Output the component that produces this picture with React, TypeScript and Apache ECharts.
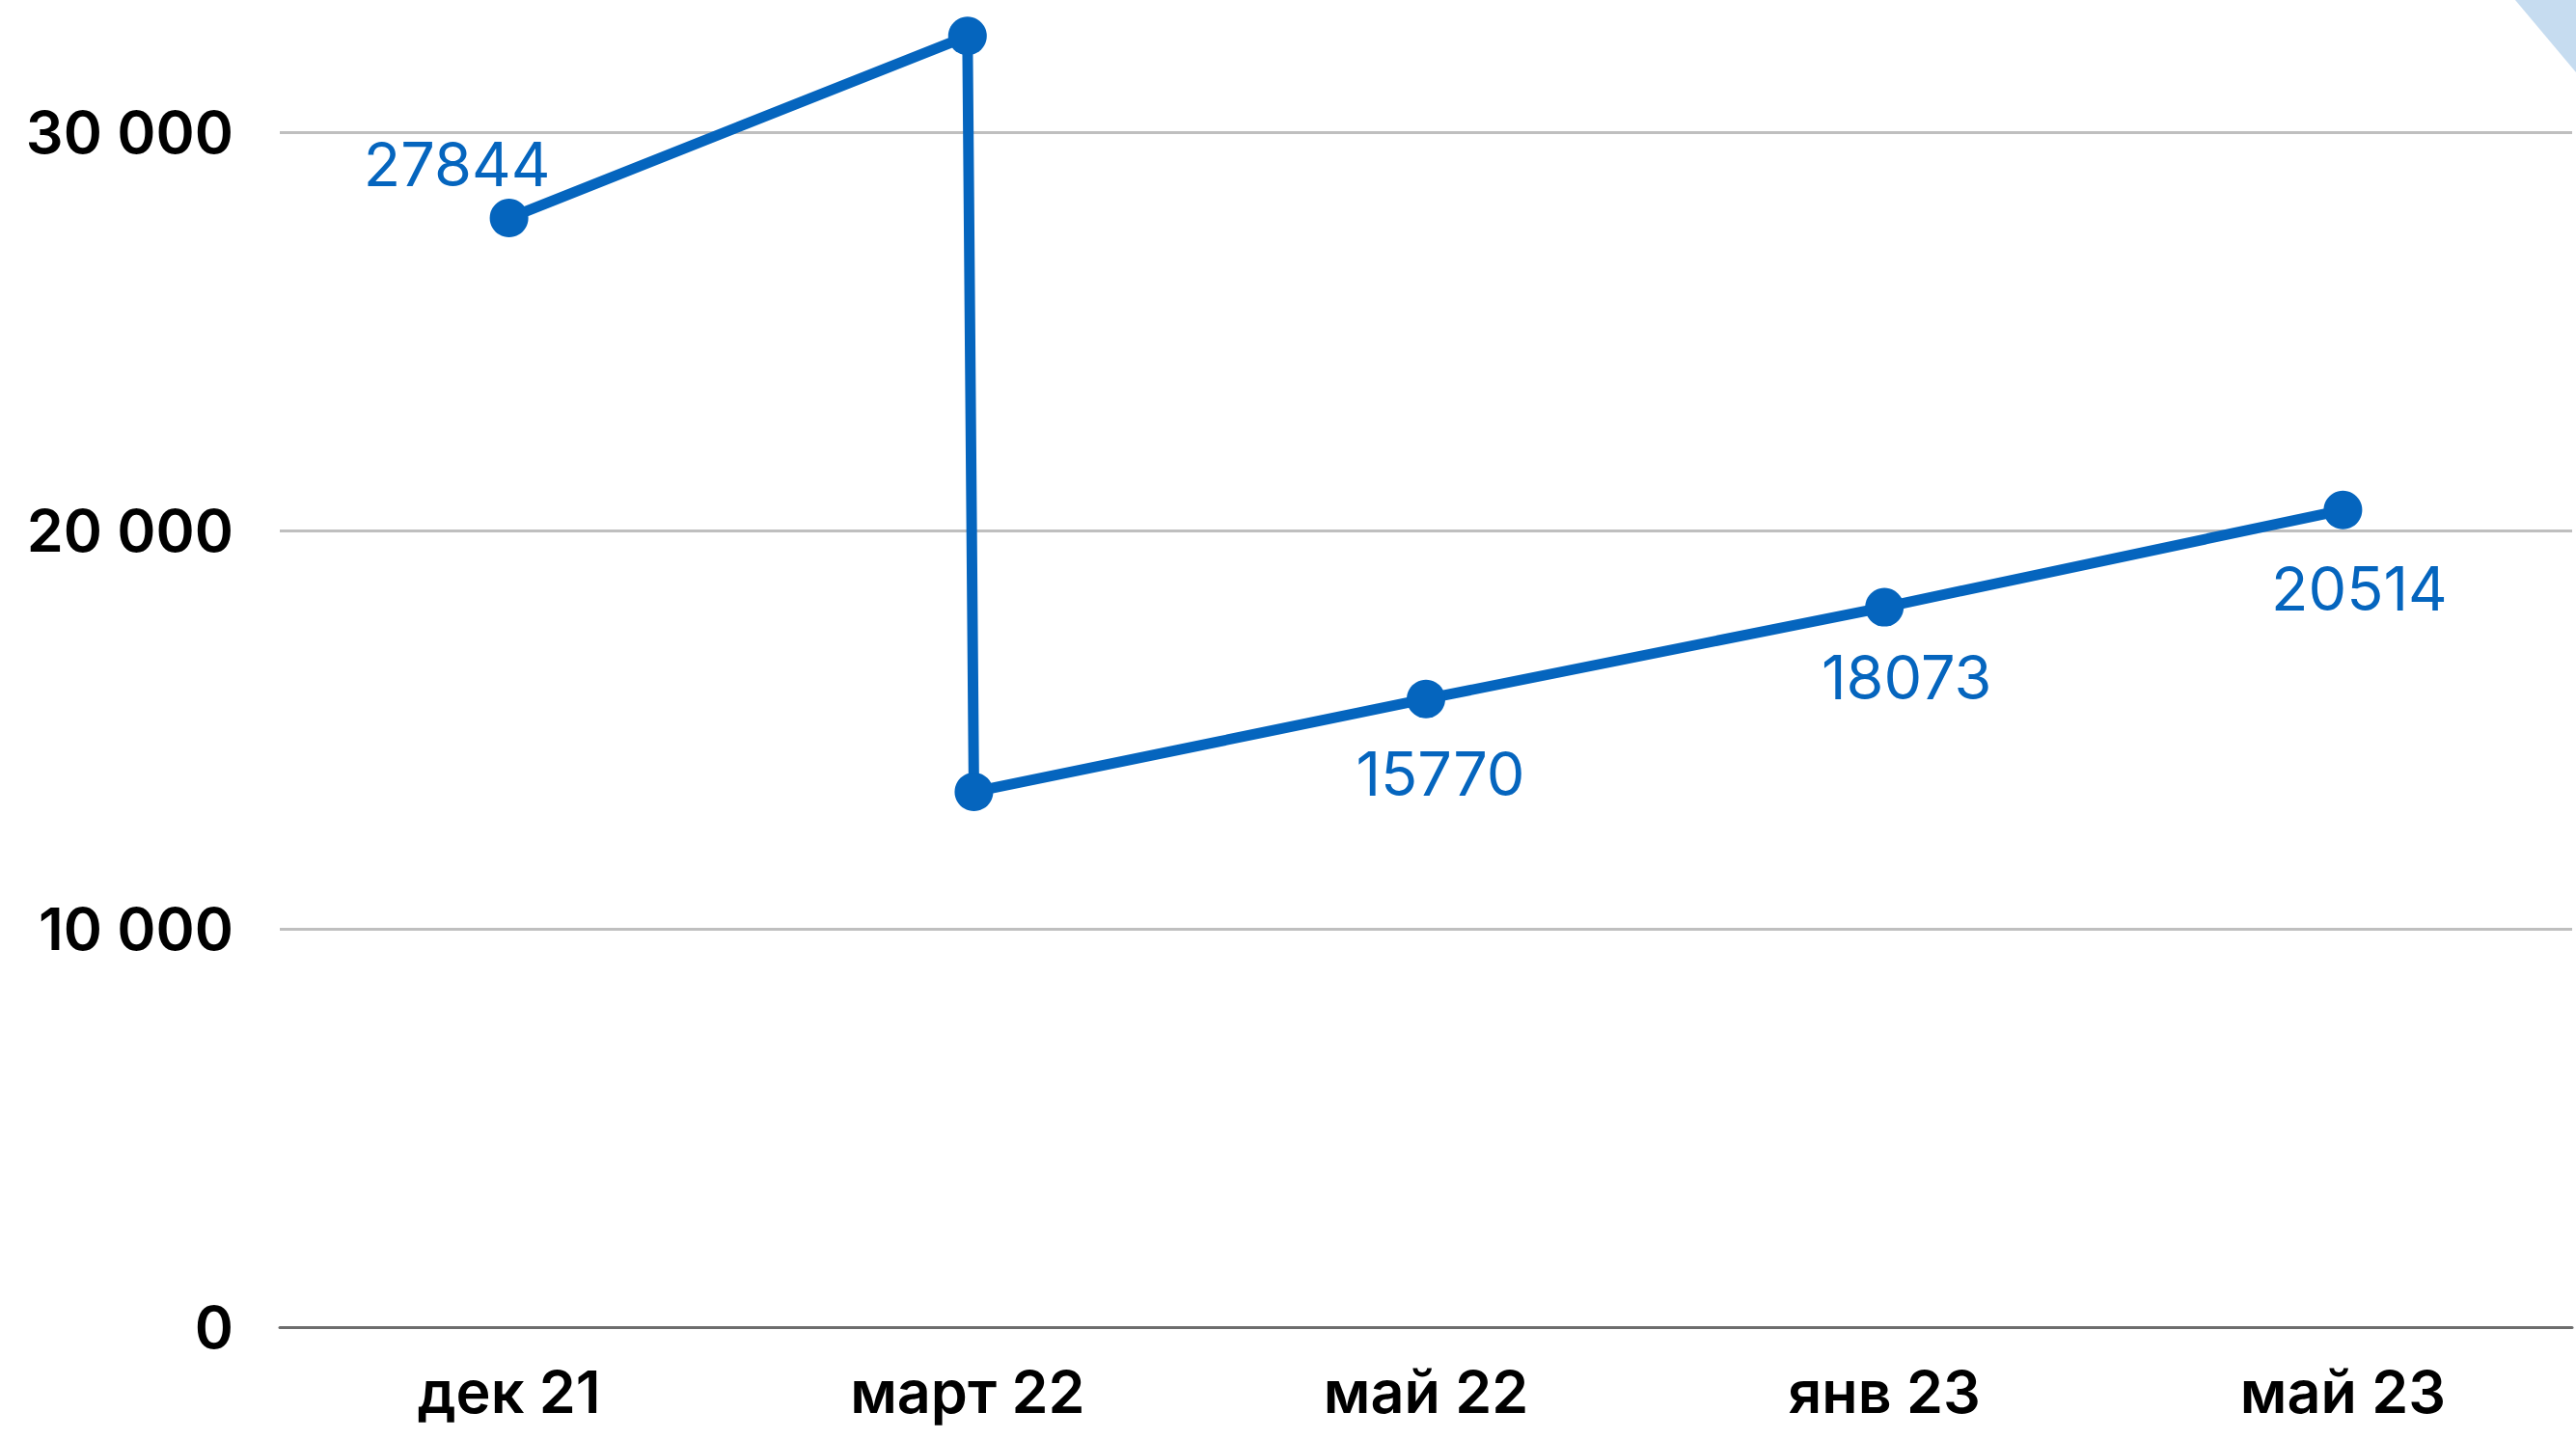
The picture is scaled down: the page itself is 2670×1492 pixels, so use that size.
import React, { useEffect, useRef } from "react";
import * as echarts from "echarts";

const categories = ["дек 21", "март 22", "май 22", "янв 23", "май 23"];
// position of each point along the category axis (index of its category)
const pointPositions = [0, 1, 1.014, 2, 3, 4];
const pointValues = [27844, 32414, 13438, 15770, 18073, 20514];
const pointLabels = ["27844", "", "", "15770", "18073", "20514"];
const yTicks = [0, 10000, 20000, 30000];

const BLUE = "#0565BE";
const labelOffsets: Record<number, [number, number]> = {
  0: [-54, -56],
  3: [15, 77],
  4: [23, 72],
  5: [17, 81],
};

function fmt(v: number) {
  return String(v).replace(/\B(?=(\d{3})+(?!\d))/g, " ");
}

export default function App() {
  const ref = useRef<HTMLDivElement>(null);
  useEffect(() => {
    document.body.style.margin = "0";
    const chart = echarts.init(ref.current!, null, { renderer: "svg" });
    const data = pointPositions.map((x, i) => ({
      value: [x, pointValues[i]],
      label: pointLabels[i]
        ? {
            show: true,
            formatter: pointLabels[i],
            position: ["50%", "50%"],
            align: "center",
            verticalAlign: "middle",
            offset: labelOffsets[i],
            color: BLUE,
            fontSize: 63,
            fontFamily: "Inter",
            fontWeight: 400,
          }
        : { show: false },
    }));
    chart.setOption({
      animation: false,
      backgroundColor: "#ffffff",
      grid: {
        left: 290,
        right: 4,
        top: -276,
        bottom: 116,
        containLabel: false,
        outerBoundsMode: "none",
      },
      xAxis: [
        {
          type: "category",
          data: categories,
          boundaryGap: true,
          axisLine: { show: true, lineStyle: { color: "#6d6d6d", width: 3 } },
          axisTick: { show: false },
          splitLine: { show: false },
          axisLabel: {
            color: "#000",
            fontSize: 61,
            fontFamily: "Inter",
            fontWeight: 600,
            margin: 36,
            interval: 0,
          },
        },
        {
          type: "value",
          min: -0.5,
          max: 4.5,
          show: false,
          splitLine: { show: false },
        },
      ],
      yAxis: {
        type: "value",
        min: 0,
        max: 40000,
        interval: 10000,
        axisLine: { show: false },
        axisTick: { show: false },
        splitLine: { show: true, lineStyle: { color: "#bfbfbf", width: 3 } },
        axisLabel: {
          color: "#000",
          fontSize: 61,
          fontFamily: "Inter",
          fontWeight: 600,
          margin: 48,
          formatter: (v: number) => (yTicks.includes(v) ? fmt(v) : ""),
        },
      },
      series: [
        {
          type: "line",
          xAxisIndex: 1,
          data,
          symbol: "circle",
          symbolSize: 40,
          lineStyle: { color: BLUE, width: 11 },
          itemStyle: { color: BLUE },
          clip: false,
          z: 3,
        },
      ],
      graphic: [
        {
          type: "polygon",
          shape: { points: [[2607, 0], [2670, 0], [2670, 75]] },
          style: { fill: "#c6dcf0" },
          z: 0,
        },
      ],
    });
    return () => chart.dispose();
  }, []);
  return <div ref={ref} style={{ width: 2670, height: 1492 }} />;
}
